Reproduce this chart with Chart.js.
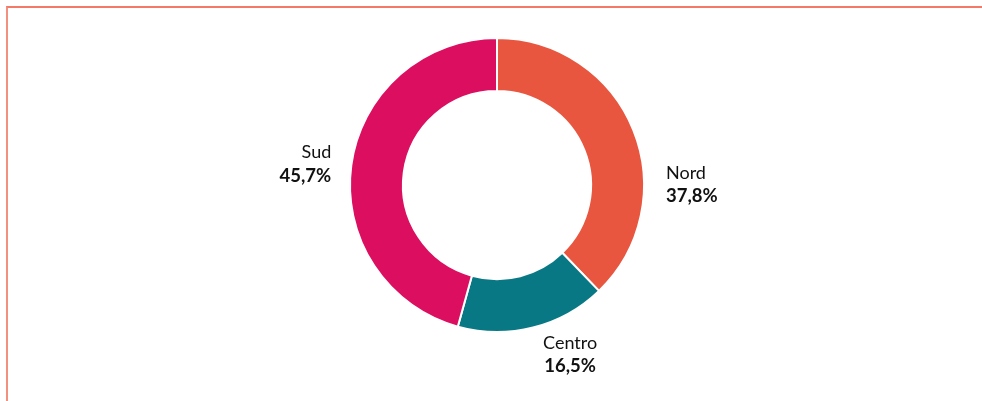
<!DOCTYPE html>
<html lang="it">
<head>
    <meta charset="UTF-8">
    <title>Distribuzione per area geografica</title>
    <script src="https://cdn.jsdelivr.net/npm/chart.js"></script>
    <style>
        html, body { margin: 0; padding: 0; background: #fff; }
        body { width: 982px; height: 401px; position: relative; overflow: hidden; font-family: Lato, Arial, sans-serif; }
        .frame { position: absolute; left: 6px; top: 6px; right: 0; bottom: 0;
                 border-top: 2px solid #F37A66; border-left: 2px solid #F3907F; }
        #wrap { position: absolute; left: 0; top: 0; width: 982px; height: 401px; }
    </style>
</head>
<body>
<div class="frame"></div>
<div id="wrap"><canvas id="donut"></canvas></div>

<script>
    // Dati
    const areas = ['Nord', 'Centro', 'Sud'];
    const shares = [37.8, 16.5, 45.7];
    const areaColors = ['#E9563F', '#087984', '#DB0E5F'];

    // where each label sits around the ring (degrees, 0 = right, clockwise)
    const labelAngles = [0, 65, 187];
    const labelGap = [22, 26, 20];

    const fmt = v => v.toFixed(1).replace('.', ',') + '%';

    const outsideLabels = {
        id: 'outsideLabels',
        afterDraw(chart) {
            const ctx = chart.ctx;
            const meta = chart.getDatasetMeta(0);
            meta.data.forEach((arc, i) => {
                const a = labelAngles[i] * Math.PI / 180;
                const r = arc.outerRadius + labelGap[i];
                const x = arc.x + Math.cos(a) * r;
                const y = arc.y + Math.sin(a) * r;
                let align = 'center';
                if (Math.cos(a) > 0.5) align = 'left';
                else if (Math.cos(a) < -0.5) align = 'right';
                let top = y - 21;
                if (Math.sin(a) > 0.7) top = y - 8;
                ctx.save();
                ctx.fillStyle = '#111';
                ctx.textAlign = align;
                ctx.textBaseline = 'middle';
                ctx.font = '18px Lato, Arial, sans-serif';
                ctx.fillText(areas[i], x, top + 9);
                ctx.font = 'bold 18.5px Lato, Arial, sans-serif';
                ctx.fillText(fmt(shares[i]), x, top + 32);
                ctx.restore();
            });
        }
    };

    new Chart(document.getElementById('donut'), {
        type: 'doughnut',
        data: {
            labels: areas,
            datasets: [{
                data: shares,
                backgroundColor: areaColors,
                borderColor: '#fff',
                borderWidth: 2
            }]
        },
        options: {
            responsive: true,
            maintainAspectRatio: false,
            animation: false,
            cutout: '64%',
            layout: { padding: { left: 12, top: 37, bottom: 68, right: 0 } },
            plugins: {
                legend: { display: false },
                tooltip: { enabled: false }
            }
        },
        plugins: [outsideLabels]
    });
</script>
</body>
</html>
